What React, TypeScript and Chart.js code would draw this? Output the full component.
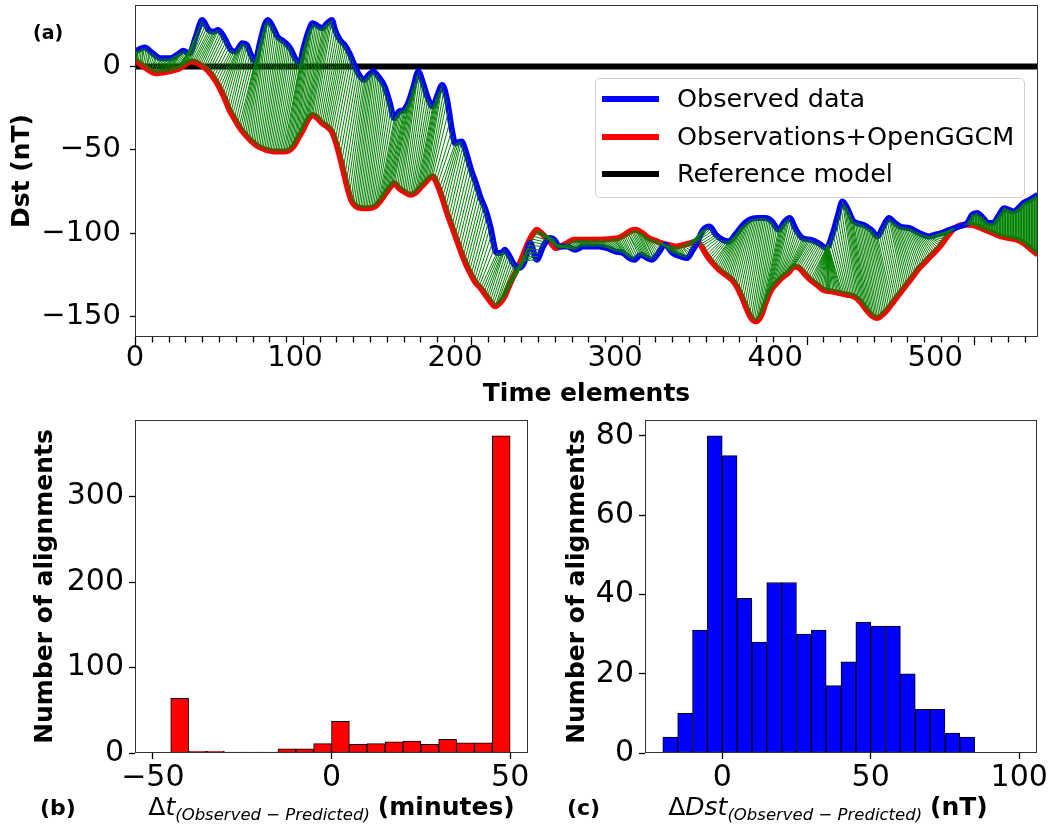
import React, { useEffect, useRef } from 'react';
import { Chart, registerables } from 'chart.js';

Chart.register(...registerables);
Chart.defaults.font.family = 'DejaVu Sans';
Chart.defaults.color = '#000';

// ---------- Panel (a): Dst time series ----------
const obsTime = [0, 6, 11, 16, 22, 27, 30, 34, 38, 42, 46, 49, 52, 56, 60, 63, 67, 70, 72, 75, 78, 81, 83, 86, 89, 93, 97, 100, 103, 105, 108, 111, 114, 117, 120, 123, 125, 128, 131, 134, 137, 140, 143, 146, 149, 152, 156, 159, 162, 165, 168, 171, 174, 177, 180, 183, 186, 189, 192, 195, 198, 200, 204, 207, 210, 213, 216, 219, 222, 226, 229, 231, 234, 237, 240, 243, 247, 251, 255, 259, 262, 265, 270, 275, 280, 285, 290, 295, 300, 305, 309, 312, 316, 320, 323, 327, 331, 336, 341, 345, 348, 351, 355, 359, 363, 367, 371, 375, 379, 384, 389, 394, 398, 402, 406, 409, 413, 417, 422, 427, 432, 436, 439, 442, 445, 449, 455, 460, 464, 467, 471, 475, 478, 484, 490, 496, 500, 504, 509, 515, 520, 523, 526, 530, 533, 536, 540, 543, 546, 549, 552, 555, 559, 564];
const obsDst = [9, 11.5, 8, 5, 5, 7.5, 9.5, 8, 18, 28, 22, 21, 22, 17, 10, 9, 14, 13, 8, 3, 14, 25, 28, 24, 18, 15, 11, 5, 2, 10, 20, 26, 24.5, 23, 26, 28, 22, 16, 13, 8, 1, -5, -8, -5, -3, -6, -12, -21, -31, -27, -26, -21, -12, -3, -10, -19, -24, -17, -11, -20, -38, -46, -45, -52, -62, -70, -79, -86, -96, -112, -112, -110, -114, -119, -121, -118, -106, -116, -108, -103, -104, -108, -108, -110, -108, -108, -108, -109, -111, -112, -115, -116, -113, -115, -116, -112, -107, -112, -114, -115, -111, -106, -98, -96, -101, -104, -105, -101, -96, -92, -91, -91, -93, -98, -93, -91, -98, -103, -104, -106, -109, -100, -90, -81, -85, -93, -95, -98, -102, -97, -91, -94, -96, -97, -100, -102, -101, -100, -98, -96, -94, -89, -88, -91, -94, -94, -89, -85, -86, -87, -85, -82, -80, -77];

const predTime = [0, 4, 7, 10, 13, 17, 21, 25, 28, 31, 35, 38, 41, 44, 47, 50, 53, 56, 59, 62, 65, 69, 73, 77, 82, 87, 92, 96, 99, 102, 105, 108, 111, 114, 117, 120, 123, 126, 129, 132, 135, 138, 142, 146, 150, 153, 156, 159, 162, 165, 168, 172, 175, 178, 181, 184, 186, 189, 192, 195, 198, 201, 204, 207, 210, 213, 216, 219, 222, 225, 228, 231, 234, 237, 240, 243, 246, 249, 251, 254, 257, 260, 263, 266, 270, 274, 279, 285, 291, 297, 302, 306, 310, 313, 317, 321, 325, 329, 333, 338, 343, 347, 351, 354, 357, 361, 365, 369, 373, 376, 379, 382, 385, 388, 391, 394, 397, 400, 404, 408, 412, 415, 418, 422, 426, 430, 435, 440, 445, 449, 453, 457, 461, 464, 467, 470, 474, 478, 482, 486, 490, 494, 498, 502, 506, 510, 514, 518, 522, 526, 531, 536, 541, 546, 551, 555, 559, 564];
const predDst = [4, 1, -1, -3, -4, -3.5, -3, -2, -1, 1, 3, 2.5, 1, -1, -4, -8, -13, -19, -26, -31, -36, -41, -45, -48, -50, -51, -51, -50.5, -48, -43, -38, -32, -29, -31, -34, -36, -39, -47, -58, -70, -80, -84, -85, -85, -84, -81, -77, -73, -70, -73, -75, -77, -76, -73, -70, -67, -66, -71, -79, -88, -96, -104, -112, -119, -125, -130, -133, -137, -141, -144, -142, -138, -131, -125, -119, -112, -105, -100, -98, -100, -103, -106, -109, -108, -106, -104, -104, -104, -104, -103.5, -103, -101, -98.5, -98, -100, -103, -104.5, -106, -107, -108, -107, -106, -105, -108, -113, -118, -122, -125, -128, -132, -138, -145, -151, -153, -150, -142, -135, -131, -127, -124, -120, -121, -124, -128, -131, -134, -135, -136, -137, -138, -141, -146, -150, -151, -149, -146, -141, -136, -131, -126, -121, -117, -113, -109, -104, -99, -96, -95, -95, -96, -98, -100, -102, -103, -104, -106, -109, -113];

const refTime = [0, 564.2];
const refDst = [0, 0];

// alignment path anchors (observed index, predicted index)
const alignObs = [0, 30, 45, 230, 262, 290, 320, 345, 360, 433, 433, 500, 512, 564];
const alignPred = [0, 22, 35, 220, 252, 285, 312, 340, 350, 423, 442, 509, 512, 564];

const topXTicks = [0, 100, 200, 300, 400, 500];
const topYTicks = [-150, -100, -50, 0];
const topMinorTickStep = 10.49;

// ---------- Panel (b): time shift histogram ----------
const dtBinStart = [-50, -45, -40, -35, -30, -25, -20, -15, -10, -5, 0, 5, 10, 15, 20, 25, 30, 35, 40, 45];
const dtCounts = [0, 64, 2, 2, 1, 1, 1, 5, 5, 11, 37, 10, 11, 13, 14, 10, 16, 12, 12, 371];
const dtXTicks = [-50, 0, 50];
const dtYTicks = [0, 100, 200, 300];

// ---------- Panel (c): Dst difference histogram ----------
const dDstBinStart = [-20, -15, -10, -5, 0, 5, 10, 15, 20, 25, 30, 35, 40, 45, 50, 55, 60, 65, 70, 75, 80, 85, 90, 95];
const dDstCounts = [4, 10, 31, 80, 75, 39, 28, 43, 43, 30, 31, 17, 23, 33, 32, 32, 20, 11, 11, 5, 4, 0, 0, 0];
const dDstXTicks = [0, 50, 100];
const dDstYTicks = [0, 20, 40, 60, 80];
const binWidth = 5;

const FONT = 'DejaVu Sans';

function fmt(v: number | string) {
  const n = Number(v);
  return n < 0 ? '\u2212' + Math.abs(n) : String(n);
}

function valueOnCurve(times: number[], vals: number[], t: number) {
  if (t <= times[0]) return vals[0];
  for (let i = 1; i < times.length; i++) {
    if (t <= times[i]) {
      const f = (t - times[i - 1]) / (times[i] - times[i - 1]);
      return vals[i - 1] + f * (vals[i] - vals[i - 1]);
    }
  }
  return vals[vals.length - 1];
}

function buildAlignment() {
  const pairs: [number, number][] = [[alignObs[0], alignPred[0]]];
  for (let s = 1; s < alignObs.length; s++) {
    const a = alignObs[s - 1], b = alignPred[s - 1], c = alignObs[s], d = alignPred[s];
    const n = Math.max(c - a, d - b);
    for (let k = 1; k <= n; k++) {
      pairs.push([a + Math.round((k * (c - a)) / n), b + Math.round((k * (d - b)) / n)]);
    }
  }
  const pts: { x: number; y: number | null }[] = [];
  for (const [o, p] of pairs) {
    pts.push({ x: o, y: valueOnCurve(obsTime, obsDst, o) });
    pts.push({ x: p, y: valueOnCurve(predTime, predDst, p) });
    pts.push({ x: p, y: null });
  }
  return pts;
}

const framePlugin = {
  id: 'frame',
  afterDatasetsDraw(chart: any) {
    const { ctx, chartArea } = chart;
    const l = Math.round(chartArea.left) + 0.5;
    const t = Math.round(chartArea.top) + 0.5;
    const r = Math.round(chartArea.right) - 0.5;
    const b = Math.round(chartArea.bottom) - 0.5;
    ctx.save();
    ctx.strokeStyle = '#333';
    ctx.lineWidth = 1;
    ctx.strokeRect(l, t, r - l, b - t);
    ctx.restore();
  },
};

const minorTickPlugin = {
  id: 'minorTicks',
  afterDraw(chart: any) {
    const xs = chart.scales.x;
    const b = chart.chartArea.bottom;
    const ctx = chart.ctx;
    ctx.save();
    ctx.strokeStyle = '#000';
    ctx.lineWidth = 1.3;
    ctx.beginPath();
    for (let k = 0; k * topMinorTickStep <= xs.max; k++) {
      const px = Math.round(xs.getPixelForValue(k * topMinorTickStep)) + 0.5;
      ctx.moveTo(px, b);
      ctx.lineTo(px, b + (k % 10 === 0 ? 8 : 5.5));
    }
    ctx.stroke();
    ctx.restore();
  },
};

function tickSetter(vals: number[]) {
  return (s: any) => {
    s.ticks = vals.map((v) => ({ value: v }));
  };
}

function fixHeight(h: number) {
  return (s: any) => {
    s.height = h;
    s.paddingLeft = 0; s.paddingRight = 0; s.paddingTop = 0; s.paddingBottom = 0;
  };
}
function fixWidth(w: number) {
  return (s: any) => {
    s.width = w;
    s.paddingLeft = 0; s.paddingRight = 0; s.paddingTop = 0; s.paddingBottom = 0;
  };
}

function topConfig(): any {
  return {
    type: 'line',
    data: {
      datasets: [
        {
          label: 'Observed data',
          data: obsTime.map((t, i) => ({ x: t, y: obsDst[i] })),
          borderColor: '#0000ff',
          borderWidth: 6,
          pointRadius: 0,
          cubicInterpolationMode: 'monotone',
          borderJoinStyle: 'round',
          order: 2,
        },
        {
          label: 'Observations+OpenGGCM',
          data: predTime.map((t, i) => ({ x: t, y: predDst[i] })),
          borderColor: '#ff0000',
          borderWidth: 6,
          pointRadius: 0,
          cubicInterpolationMode: 'monotone',
          borderJoinStyle: 'round',
          order: 2,
        },
        {
          label: 'Reference model',
          data: refTime.map((t, i) => ({ x: t, y: refDst[i] })),
          borderColor: '#000000',
          borderWidth: 6,
          pointRadius: 0,
          order: 2,
        },
        {
          label: 'alignments',
          data: buildAlignment(),
          borderColor: '#008000',
          borderWidth: 1,
          pointRadius: 0,
          tension: 0,
          spanGaps: false,
          order: 1,
        },
      ],
    },
    options: {
      responsive: false,
      animation: false,
      devicePixelRatio: 1,
      events: [],
      layout: { autoPadding: false, padding: { left: 0, right: 14, top: 5, bottom: 0 } },
      plugins: { legend: { display: false }, tooltip: { enabled: false } },
      scales: {
        x: {
          type: 'linear',
          bounds: 'data',
          min: 0,
          max: 564.2,
          afterBuildTicks: tickSetter(topXTicks),
          afterFit: fixHeight(80),
          grid: { display: false, drawTicks: false },
          border: { display: false },
          ticks: { font: { size: 29, family: FONT }, color: '#000', padding: 4, autoSkip: false, maxRotation: 0, callback: fmt },
          title: { display: true, text: 'Time elements', color: '#000', font: { size: 25, weight: 'bold', family: FONT }, padding: { top: 0, bottom: 8 } },
        },
        y: {
          type: 'linear',
          bounds: 'data',
          min: -162.4,
          max: 37,
          afterBuildTicks: tickSetter(topYTicks),
          afterFit: fixWidth(135),
          grid: { display: true, drawOnChartArea: false, drawTicks: true, tickLength: 5, tickWidth: 1.3, tickColor: '#000' },
          border: { display: false },
          ticks: { font: { size: 29, family: FONT }, color: '#000', padding: 9, callback: fmt },
          title: { display: true, text: 'Dst (nT)', color: '#000', font: { size: 25, weight: 'bold', family: FONT }, padding: { top: 7, bottom: 0 } },
        },
      },
    },
    plugins: [framePlugin, minorTickPlugin],
  };
}

function histConfig(
  starts: number[], counts: number[], color: string,
  xMin: number, xMax: number, xTicks: number[],
  yMax: number, yTicks: number[], yWidth: number, rightPad: number, titlePad: number
): any {
  return {
    type: 'bar',
    data: {
      datasets: [
        {
          data: starts.map((s, i) => ({ x: s + binWidth / 2, y: counts[i] })),
          backgroundColor: color,
          borderColor: '#000',
          borderWidth: 1,
          borderSkipped: false,
          barPercentage: 1,
          categoryPercentage: 1,
        },
      ],
    },
    options: {
      responsive: false,
      animation: false,
      devicePixelRatio: 1,
      events: [],
      layout: { autoPadding: false, padding: { left: 0, right: rightPad, top: 20, bottom: 0 } },
      plugins: { legend: { display: false }, tooltip: { enabled: false } },
      scales: {
        x: {
          type: 'linear',
          bounds: 'data',
          offset: false,
          min: xMin,
          max: xMax,
          afterBuildTicks: tickSetter(xTicks),
          afterFit: fixHeight(78),
          grid: { display: true, offset: false, drawOnChartArea: false, drawTicks: true, tickLength: 6, tickWidth: 1.3, tickColor: '#000' },
          border: { display: false },
          ticks: { font: { size: 30, family: FONT }, color: '#000', padding: 1, autoSkip: false, maxRotation: 0, callback: fmt },
        },
        y: {
          type: 'linear',
          bounds: 'data',
          min: 0,
          max: yMax,
          afterBuildTicks: tickSetter(yTicks),
          afterFit: fixWidth(yWidth),
          grid: { display: true, drawOnChartArea: false, drawTicks: true, tickLength: 6, tickWidth: 1.3, tickColor: '#000' },
          border: { display: false },
          ticks: { font: { size: 30, family: FONT }, color: '#000', padding: 5, callback: fmt },
          title: { display: true, text: 'Number of alignments', color: '#000', font: { size: 25, weight: 'bold', family: FONT }, padding: { top: titlePad, bottom: 0 } },
        },
      },
    },
    plugins: [framePlugin],
  };
}

const abs = (left: number, top: number, extra: React.CSSProperties = {}): React.CSSProperties => ({
  position: 'absolute', left, top, fontFamily: FONT, color: '#000', whiteSpace: 'nowrap', lineHeight: 1, ...extra,
});

function LegendRow({ color, text, y }: { color: string; text: string; y: number }) {
  return (
    <>
      <div style={{ position: 'absolute', left: 6, top: y - 3, width: 57, height: 6, background: color }} />
      <div style={abs(81, y, { fontSize: 25.5, transform: 'translateY(-50%)' })}>{text}</div>
    </>
  );
}

export default function App() {
  const topRef = useRef<HTMLCanvasElement>(null);
  const dtRef = useRef<HTMLCanvasElement>(null);
  const dDstRef = useRef<HTMLCanvasElement>(null);

  useEffect(() => {
    const charts = [
      new Chart(topRef.current!, topConfig()),
      new Chart(dtRef.current!, histConfig(dtBinStart, dtCounts, '#ff0000', -55, 55, dtXTicks, 389.6, dtYTicks, 135, 12, 30)),
      new Chart(dDstRef.current!, histConfig(dDstBinStart, dDstCounts, '#0000ff', -26, 106, dDstXTicks, 84, dDstYTicks, 105, 15, 22)),
    ];
    return () => charts.forEach((c) => c.destroy());
  }, []);

  const subStyle: React.CSSProperties = { fontSize: 16.5, fontStyle: 'italic', position: 'relative', top: '0.3em' };

  return (
    <div style={{ position: 'absolute', left: 0, top: 0, width: 1052, height: 831, background: '#fff', overflow: 'hidden' }}>
      <canvas ref={topRef} width={1052} height={417} style={{ position: 'absolute', left: 0, top: 0 }} />
      <canvas ref={dtRef} width={540} height={431} style={{ position: 'absolute', left: 0, top: 400 }} />
      <canvas ref={dDstRef} width={512} height={431} style={{ position: 'absolute', left: 540, top: 400 }} />

      <div style={{ position: 'absolute', left: 595, top: 78, width: 430, height: 120, border: '1px solid #d0d0d0', borderRadius: 5, background: 'rgba(255,255,255,0.8)', boxSizing: 'border-box' }}>
        <LegendRow color="#0000ff" text="Observed data" y={20} />
        <LegendRow color="#ff0000" text="Observations+OpenGGCM" y={57.5} />
        <LegendRow color="#000000" text="Reference model" y={95} />
      </div>

      <div style={abs(33, 32, { fontSize: 19, fontWeight: 'bold', transform: 'translateY(-50%)' })}>(a)</div>
      <div style={abs(40, 808, { fontSize: 22, fontWeight: 'bold', transform: 'translateY(-50%)' })}>(b)</div>
      <div style={abs(567, 808, { fontSize: 22, fontWeight: 'bold', transform: 'translateY(-50%)' })}>(c)</div>

      <div style={abs(331.5, 806, { fontSize: 25, transform: 'translate(-50%, -50%)' })}>
        {'\u0394'}<i>t</i><span style={subStyle}>(Observed {'\u2212'} Predicted)</span> <b>(minutes)</b>
      </div>
      <div style={abs(828, 806, { fontSize: 25, transform: 'translate(-50%, -50%)' })}>
        {'\u0394'}<i>Dst</i><span style={subStyle}>(Observed {'\u2212'} Predicted)</span> <b>(nT)</b>
      </div>
    </div>
  );
}
